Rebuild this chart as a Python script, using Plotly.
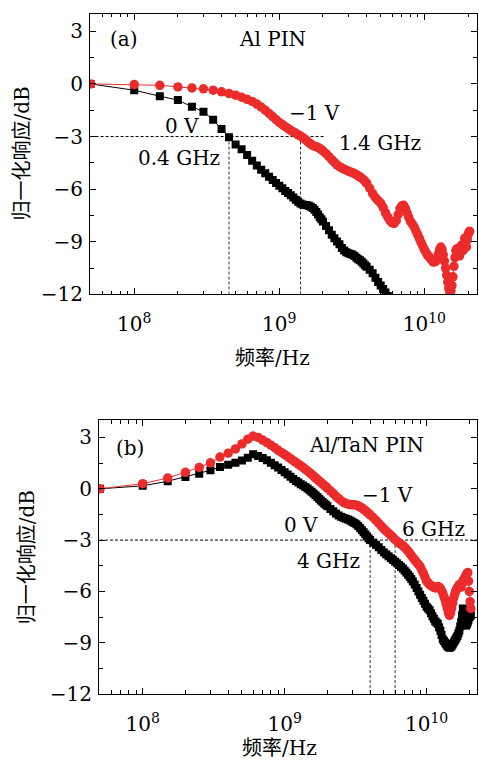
import plotly.graph_objects as go

# ---------------- data (frequency in GHz, normalized response in dB) -------------
freq_a_0v = [0.05, 0.10, 0.15, 0.20, 0.25, 0.30, 0.35, 0.40, 0.45, 0.50,
             0.55, 0.60, 0.65, 0.70, 0.75, 0.80, 0.85, 0.90, 0.95, 1.00,
             1.05, 1.10, 1.15, 1.20, 1.25, 1.30, 1.35, 1.40, 1.45, 1.50,
             1.55, 1.60, 1.65, 1.70, 1.75, 1.80, 1.85, 1.90, 1.95, 2.00,
             2.1, 2.2, 2.3, 2.4, 2.5, 2.6, 2.7, 2.8, 2.9, 3.0,
             3.1, 3.2, 3.3, 3.4, 3.5, 3.6, 3.7, 3.8, 3.9, 4.0,
             4.2, 4.4, 4.6, 4.8, 5.0, 5.2, 5.4, 5.6, 5.8]
resp_a_0v = [0, -0.36, -0.70, -0.92, -1.30, -1.58, -2.05, -2.57, -3.04, -3.45,
             -3.72, -4.05, -4.38, -4.65, -4.90, -5.10, -5.30, -5.48, -5.65, -5.80,
             -5.95, -6.10, -6.22, -6.35, -6.48, -6.60, -6.72, -6.82, -6.88, -6.90,
             -6.92, -6.95, -7.00, -7.08, -7.18, -7.30, -7.45, -7.60, -7.72, -7.85,
             -8.10, -8.35, -8.60, -8.80, -8.98, -9.15, -9.35, -9.50, -9.60, -9.65,
             -9.70, -9.74, -9.82, -9.92, -10.00, -10.06, -10.14, -10.24, -10.34, -10.42,
             -10.60, -10.80, -11.05, -11.30, -11.50, -11.70, -11.90, -12.10, -12.30]

freq_hi = [8.0, 8.25, 8.5, 8.75, 9.0, 9.25, 9.5, 9.75, 10.0, 10.25,
           10.5, 10.75, 11.0, 11.25, 11.5, 11.75, 12.0, 12.25, 12.5, 12.75,
           13.0, 13.25, 13.5, 13.75, 14.0, 14.25, 14.5, 14.75, 15.0, 15.25,
           15.5, 15.75, 16.0, 16.25, 16.5, 16.75, 17.0, 17.25, 17.5, 17.75,
           18.0, 18.25, 18.5, 18.75, 19.0, 19.25, 19.5, 19.75, 20.0, 20.25, 20.5]

freq_lo = [0.05, 0.10, 0.15, 0.20, 0.25, 0.30, 0.35, 0.40, 0.45, 0.50,
           0.55, 0.60, 0.65, 0.70, 0.75, 0.80, 0.85, 0.90, 0.95, 1.00,
           1.05, 1.10, 1.15, 1.20, 1.25, 1.30, 1.35, 1.40, 1.45, 1.50,
           1.55, 1.60, 1.65, 1.70, 1.75, 1.80, 1.85, 1.90, 1.95, 2.00,
           2.1, 2.2, 2.3, 2.4, 2.5, 2.6, 2.7, 2.8, 2.9, 3.0,
           3.1, 3.2, 3.3, 3.4, 3.5, 3.6, 3.7, 3.8, 3.9, 4.0,
           4.2, 4.4, 4.6, 4.8, 5.0, 5.2, 5.4, 5.6, 5.8, 6.0,
           6.2, 6.4, 6.6, 6.8, 7.0, 7.2, 7.4, 7.6, 7.8]

resp_a_m1v = [0, -0.04, -0.08, -0.17, -0.23, -0.28, -0.36, -0.45, -0.55, -0.64,
              -0.76, -0.88, -1.00, -1.15, -1.32, -1.50, -1.68, -1.86, -2.04, -2.20,
              -2.32, -2.44, -2.55, -2.65, -2.74, -2.82, -2.90, -2.97, -3.06, -3.15,
              -3.25, -3.35, -3.44, -3.50, -3.55, -3.58, -3.62, -3.68, -3.75, -3.82,
              -3.98, -4.15, -4.32, -4.48, -4.62, -4.72, -4.80, -4.86, -4.92, -4.98,
              -5.02, -5.06, -5.12, -5.18, -5.24, -5.30, -5.38, -5.46, -5.56, -5.66,
              -5.95, -6.25, -6.48, -6.65, -6.80, -7.05, -7.35, -7.60, -7.80, -7.92,
              -7.95, -7.80, -7.45, -7.10, -6.95, -6.92, -7.10, -7.35, -7.60,
              # 8 GHz and up
              -7.82, -7.98, -8.15, -8.38, -8.60, -8.82, -9.05, -9.25, -9.45, -9.60,
              -9.75, -9.85, -9.95, -10.05, -10.15, -10.15, -10.10, -9.95, -9.70, -9.45,
              -9.30, -9.45, -9.75, -10.10, -10.50, -10.90, -11.30, -11.65, -11.90, -11.80,
              -11.50, -11.00, -10.40, -9.90, -9.50, -9.40, -9.40, -9.60, -9.80, -9.50,
              -9.20, -9.35, -9.50, -9.10, -8.80, -9.05, -9.30, -8.90, -8.60, -8.50, -8.40]

resp_b_0v = [0, 0.17, 0.44, 0.69, 0.88, 1.08, 1.27, 1.40, 1.52, 1.65,
             1.82, 2.02, 1.92, 1.80, 1.66, 1.52, 1.38, 1.24, 1.10, 0.97,
             0.84, 0.70, 0.57, 0.46, 0.36, 0.27, 0.19, 0.11, 0.02, -0.08,
             -0.18, -0.28, -0.38, -0.48, -0.58, -0.68, -0.77, -0.86, -0.94, -1.02,
             -1.18, -1.32, -1.45, -1.56, -1.64, -1.70, -1.75, -1.80, -1.86, -1.93,
             -2.00, -2.08, -2.18, -2.30, -2.42, -2.54, -2.66, -2.78, -2.90, -3.00,
             -3.15, -3.28, -3.42, -3.58, -3.72, -3.84, -3.95, -4.06, -4.16, -4.26,
             -4.36, -4.46, -4.56, -4.66, -4.78, -4.90, -5.02, -5.14, -5.28,
             # 8 GHz and up
             -5.42, -5.60, -5.80, -6.00, -6.20, -6.38, -6.55, -6.72, -6.90, -7.00,
             -7.10, -7.28, -7.45, -7.60, -7.75, -7.82, -7.90, -8.10, -8.30, -8.55,
             -8.80, -8.90, -9.00, -9.10, -9.20, -9.25, -9.30, -9.25, -9.20, -9.10,
             -9.00, -8.90, -8.80, -8.70, -8.60, -8.45, -8.30, -8.05, -7.80, -7.40,
             -7.00, -7.30, -7.60, -7.80, -8.00, -7.90, -7.80, -7.65, -7.50, -7.45, -7.40]

resp_b_m1v = [0, 0.30, 0.63, 0.96, 1.25, 1.52, 1.85, 2.08, 2.33, 2.62,
              2.90, 3.08, 3.00, 2.85, 2.70, 2.55, 2.40, 2.25, 2.12, 2.00,
              1.88, 1.76, 1.64, 1.54, 1.44, 1.34, 1.24, 1.14, 1.04, 0.94,
              0.84, 0.74, 0.64, 0.55, 0.46, 0.37, 0.28, 0.20, 0.12, 0.04,
              -0.12, -0.28, -0.44, -0.58, -0.70, -0.80, -0.86, -0.90, -0.92, -0.93,
              -0.94, -0.96, -1.00, -1.06, -1.12, -1.20, -1.28, -1.36, -1.44, -1.52,
              -1.68, -1.85, -2.02, -2.18, -2.34, -2.48, -2.60, -2.72, -2.85, -2.98,
              -3.08, -3.16, -3.24, -3.32, -3.42, -3.52, -3.64, -3.76, -3.90,
              # 8 GHz and up
              -4.02, -4.16, -4.30, -4.42, -4.55, -4.75, -4.95, -5.18, -5.40, -5.50,
              -5.60, -5.66, -5.72, -5.76, -5.80, -5.76, -5.72, -5.76, -5.82, -5.95,
              -6.10, -6.30, -6.50, -6.75, -7.00, -7.25, -7.40, -7.25, -7.00, -6.70,
              -6.40, -6.20, -6.00, -5.90, -5.80, -5.70, -5.60, -5.70, -5.75, -5.55,
              -5.40, -5.30, -5.25, -5.15, -5.05, -4.95, -4.90, -5.40, -6.00, -6.60, -7.00]

freq_a_m1v = freq_lo + freq_hi
freq_b = freq_lo + freq_hi

ref_level_db = -3
f3db_a = [0.45, 1.4]          # GHz, 0 V and -1 V in panel (a)
f3db_b = [4.0, 6.0]           # GHz, 0 V and -1 V in panel (b)
hline_start = 0.05            # GHz
hline_end_a = 2.05            # GHz
hline_end_b = 23.0            # GHz
y_min = -12
y_ticks = [3, 0, -3, -6, -9, -12]
y_ticktext = ["3", "0", "\u22123", "\u22126", "\u22129", "\u221212"]
y_minor = [1.5, -1.5, -4.5, -7.5, -10.5]
x_ticks = [1e8, 1e9, 1e10]
x_ticktext = ["10<sup>8</sup>", "10<sup>9</sup>", "10<sup>10</sup>"]
x_minor = [m * 10 ** e for e in (7, 8, 9, 10) for m in range(2, 10)]

RED = "#ec2c2c"
FONT = "DejaVu Serif, Noto Sans CJK SC, serif"
W, H = 479, 771


def px(x):
    return x / W


def py(y):
    return 1 - y / H


def hz(lst):
    return [v * 1e9 for v in lst]


fig = go.Figure()

for xa, ya, f0, r0, f1, r1, fd, hend in [
    ("x", "y", freq_a_0v, resp_a_0v, freq_a_m1v, resp_a_m1v, f3db_a, hline_end_a),
    ("x2", "y2", freq_b, resp_b_0v, freq_b, resp_b_m1v, f3db_b, hline_end_b),
]:
    # dashed guide lines
    fig.add_trace(go.Scatter(x=hz([hline_start, hend]), y=[ref_level_db, ref_level_db], mode="lines",
                             line=dict(color="black", width=1, dash="3px,2px"),
                             xaxis=xa, yaxis=ya, hoverinfo="skip"))
    for f in fd:
        fig.add_trace(go.Scatter(x=hz([f, f]), y=[ref_level_db, y_min], mode="lines",
                                 line=dict(color="#333", width=1, dash="3px,2px"),
                                 xaxis=xa, yaxis=ya, hoverinfo="skip"))
    fig.add_trace(go.Scatter(x=hz(f0), y=r0, mode="lines+markers",
                             line=dict(color="black", width=1),
                             marker=dict(symbol="square", size=8, color="black"),
                             xaxis=xa, yaxis=ya, name="0 V"))
    fig.add_trace(go.Scatter(x=hz(f1), y=r1, mode="lines+markers",
                             line=dict(color=RED, width=1),
                             marker=dict(symbol="circle", size=9.5, color=RED),
                             xaxis=xa, yaxis=ya, name="-1 V"))

common_x = dict(type="log", showline=True, linecolor="black", linewidth=1.2, mirror="ticks",
                ticks="inside", ticklen=6, tickwidth=1, tickcolor="black",
                tickmode="array", tickvals=x_ticks, ticktext=x_ticktext, ticklabelstandoff=12,
                minor=dict(tickmode="array", tickvals=x_minor, ticks="inside", ticklen=3.5,
                           tickwidth=1, tickcolor="black"),
                showgrid=False, zeroline=False, tickfont=dict(size=20, family=FONT, color="black"))
common_y = dict(showline=True, linecolor="black", linewidth=1.2, mirror="ticks",
                ticks="inside", ticklen=6, tickwidth=1, tickcolor="black",
                range=[-12, 4], tickmode="array", tickvals=y_ticks, ticktext=y_ticktext,
                ticklabelstandoff=2,
                minor=dict(tickmode="array", tickvals=y_minor, ticks="inside", ticklen=3.5,
                           tickwidth=1, tickcolor="black"),
                showgrid=False, zeroline=False, tickfont=dict(size=20, family=FONT, color="black"))

fig.update_layout(
    width=W, height=H, margin=dict(l=0, r=0, t=0, b=0),
    paper_bgcolor="white", plot_bgcolor="white", showlegend=False,
    font=dict(family=FONT, size=20, color="black"),
    xaxis=dict(common_x, domain=[px(90), px(477)], range=[7.695, 10.363], anchor="y"),
    yaxis=dict(common_y, domain=[py(299), py(14)], anchor="x"),
    xaxis2=dict(common_x, domain=[px(99), px(477)], range=[7.692, 10.355], anchor="y2"),
    yaxis2=dict(common_y, domain=[py(705), py(427)], anchor="x2"),
)

labels = [
    ("(a)", 124, 40), ("Al PIN", 272, 40), ("0 V", 182, 128), ("0.4 GHz", 179, 160),
    ("\u22121 V", 314, 115), ("1.4 GHz", 380, 145),
    ("(b)", 130, 455), ("Al/TaN PIN", 366, 452), ("\u22121 V", 387, 503),
    ("0 V", 301, 533), ("6 GHz", 433, 537), ("4 GHz", 328, 570),
    ("频率/Hz", 272, 364), ("频率/Hz", 279, 760),
]
for t, x, y in labels:
    fig.add_annotation(text=t, x=px(x), y=py(y), xref="paper", yref="paper",
                       showarrow=False, xanchor="center", yanchor="middle",
                       font=dict(size=20, family=FONT, color="black"))
for x, y in [(22, 156), (27, 566)]:
    fig.add_annotation(text="归一化响应/dB", x=px(x), y=py(y), xref="paper", yref="paper",
                       showarrow=False, xanchor="center", yanchor="middle", textangle=-90,
                       font=dict(size=20, family=FONT, color="black"))

fig.write_html("out.html")
